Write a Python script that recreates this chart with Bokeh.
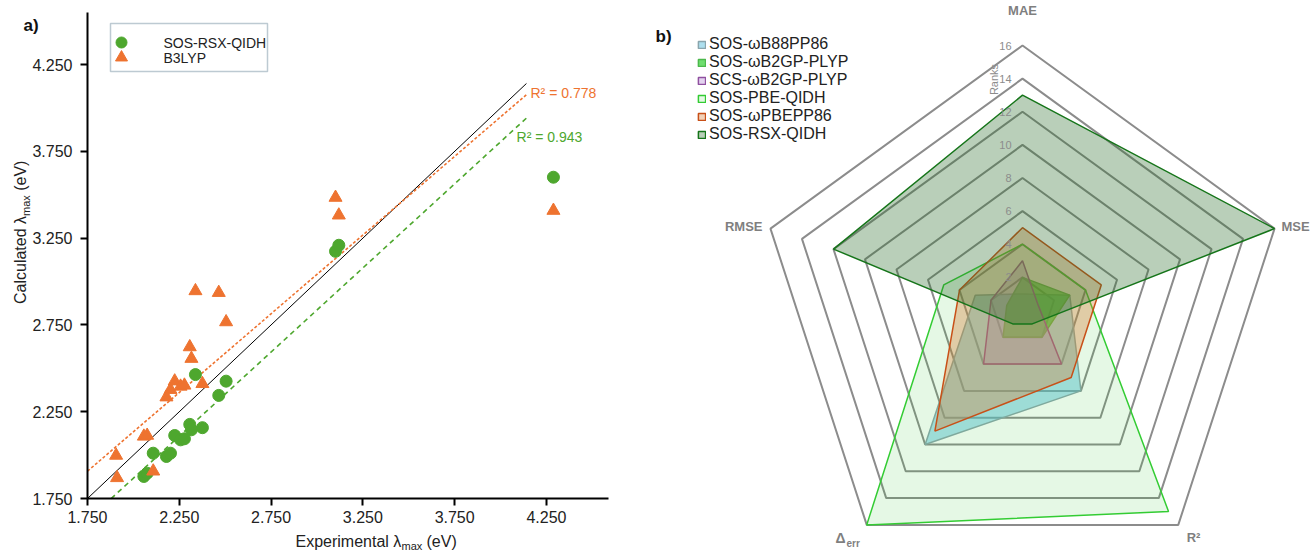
import numpy as np
from bokeh.plotting import figure
from bokeh.models import (Range1d, FixedTicker, PrintfTickFormatter, Legend,
                          LegendItem, Label, BoxAnnotation)
from bokeh.layouts import row
from bokeh.embed import file_html
from bokeh.resources import INLINE
from bokeh.core.properties import value

FONT = "Liberation Sans"

# ---------------- panel a) data ----------------
rsx_exp = [2.338, 2.505, 2.465, 2.307, 2.316, 2.376, 2.225, 2.257, 2.278,
           2.108, 2.180, 2.202, 2.057, 2.075, 3.101, 3.119, 4.288]
rsx_calc = [2.464, 2.426, 2.344, 2.177, 2.146, 2.158, 2.113, 2.088, 2.094,
            2.011, 1.992, 2.011, 1.877, 1.896, 3.174, 3.209, 3.601]
b3lyp_exp = [3.101, 3.119, 2.338, 2.465, 2.505, 2.307, 2.316, 2.225, 2.257,
             2.278, 2.202, 2.180, 2.376, 2.057, 2.075, 1.906, 1.911, 2.108, 4.288]
b3lyp_calc = [3.484, 3.382, 2.946, 2.936, 2.767, 2.623, 2.556, 2.426, 2.396,
              2.402, 2.377, 2.334, 2.411, 2.108, 2.113, 1.998, 1.869, 1.907, 3.409]
tick_values = [1.75, 2.25, 2.75, 3.25, 3.75, 4.25]
axis_min, x_axis_max, y_axis_max = 1.75, 4.588, 4.55
identity_x = [1.75, 4.141]
b3lyp_fit_x = [1.75, 4.146]
b3lyp_slope, b3lyp_intercept = 0.907, 0.320
rsx_fit_x = [1.879, 4.141]
rsx_slope, rsx_intercept = 0.969, -0.071
b3lyp_r2_text = "R² = 0.778"
rsx_r2_text = "R² = 0.943"
legend_a = ["SOS-RSX-QIDH", "B3LYP"]

GREEN = "#4ea72e"
ORANGE = "#ee7330"

# ---------------- panel b) data ----------------
radar_axes = ["MAE", "MSE", "R²", "Δerr", "RMSE"]
ring_levels = [2, 4, 6, 8, 10, 12, 14, 16]
series_names = ["SOS-ωB88PP86", "SOS-ωB2GP-PLYP", "SCS-ωB2GP-PLYP",
                "SOS-PBE-QIDH", "SOS-ωPBEPP86", "SOS-RSX-QIDH"]
rank_b88pp86 = [1, 3, 6, 10, 3]
rank_b2gpplyp = [2, 3, 2, 2, 1]
rank_scs_b2gpplyp = [3, 1, 4, 4, 2]
rank_pbe_qidh = [4, 4, 15, 16, 5]
rank_pbepp86 = [5, 5, 5, 9, 4]
rank_rsx_qidh = [13, 16, 1, 1, 12]

# ================= panel a) =================
W1, H = 640, 552
FL, FR, FT, FB = 87, 608, 12, 498          # axis box in page pixels
KX = (x_axis_max - axis_min) / (FR - FL)   # data units per pixel
KY = (y_axis_max - axis_min) / (FB - FT)
xs, xe = axis_min - FL * KX, axis_min + (W1 - FL) * KX
ys, ye = axis_min - (H - FB) * KY, axis_min + FB * KY

p1 = figure(width=W1, height=H, title=None,
            x_range=Range1d(xs, xe), y_range=Range1d(ys, ye),
            output_backend="svg", toolbar_location=None, min_border=0,
            frame_align=False)
p1.grid.visible = False
p1.outline_line_color = None
for ax, hi in ((p1.xaxis[0], x_axis_max), (p1.yaxis[0], y_axis_max)):
    ax.fixed_location = axis_min
    ax.bounds = (axis_min, hi)
    ax.ticker = FixedTicker(ticks=tick_values)
    ax.formatter = PrintfTickFormatter(format="%.3f")
    ax.axis_line_width = 2
    ax.axis_line_color = "black"
    ax.major_tick_line_width = 2
    ax.major_tick_line_color = "black"
    ax.major_tick_in = 0
    ax.major_tick_out = 7
    ax.minor_tick_line_color = None
    ax.major_label_text_font_size = "16px"
    ax.major_label_text_font = FONT
    ax.major_label_text_color = "#222222"
p1.yaxis[0].major_label_standoff = 8
p1.xaxis[0].major_label_standoff = 5


def dx(px):
    return xs + px * KX


def dy(py):
    return ye - py * KY


p1.line(identity_x, identity_x, line_color="black", line_width=1)
bx = np.array(b3lyp_fit_x)
p1.line(bx, b3lyp_slope * bx + b3lyp_intercept, line_color=ORANGE,
        line_width=1.6, line_dash="3 2")
rx = np.array(rsx_fit_x)
p1.line(rx, rsx_slope * rx + rsx_intercept, line_color=GREEN,
        line_width=1.6, line_dash="5 4")

p1.scatter(rsx_exp, rsx_calc, marker="circle", size=12,
           fill_color=GREEN, line_color=GREEN)
p1.scatter(b3lyp_exp, b3lyp_calc, marker="triangle", size=13,
           fill_color=ORANGE, line_color=ORANGE)

# legend box of panel a)
p1.add_layout(BoxAnnotation(left=dx(110), right=dx(267), top=dy(23),
                            bottom=dy(71), fill_color="white", fill_alpha=1,
                            line_color="#24506b", line_width=1.5,
                            level="underlay"))
p1.scatter([dx(121)], [dy(42)], marker="circle", size=11,
           fill_color=GREEN, line_color=GREEN)
p1.scatter([dx(121)], [dy(57)], marker="triangle", size=12,
           fill_color=ORANGE, line_color=ORANGE)


def dlab(p, x, y, text, size, color="#222222", angle=0.0, bold=False,
         align="left"):
    p.add_layout(Label(x=x, y=y, text=text, text_font=FONT,
                       text_font_size=size, text_color=color, angle=angle,
                       text_font_style="bold" if bold else "normal",
                       text_align=align, text_baseline="middle"))


dlab(p1, dx(163), dy(42), legend_a[0], "14px")
dlab(p1, dx(163), dy(57), legend_a[1], "14px")

dlab(p1, 4.163, 4.089, b3lyp_r2_text, "14px", color=ORANGE)
dlab(p1, 4.087, 3.835, rsx_r2_text, "14px", color=GREEN)

# x axis title  "Experimental λmax (eV)"
dlab(p1, dx(295), dy(541), "Experimental λ", "16px")
dlab(p1, dx(401), dy(545), "max", "11px")
dlab(p1, dx(426), dy(541), "(eV)", "16px")
# y axis title  "Calculated λmax (eV)"
dlab(p1, dx(20), dy(303.5), "Calculated λ", "16px", angle=np.pi / 2)
dlab(p1, dx(25), dy(215.5), "max", "11px", angle=np.pi / 2)
dlab(p1, dx(20), dy(190.3), "(eV)", "16px", angle=np.pi / 2)
# panel letter
dlab(p1, dx(23), dy(25), "a)", "17px", color="#111111", bold=True)

# ================= panel b) =================
PX = 265.0 / 16.0  # pixels per rank unit
W2 = 1312 - W1
CX, CY = 1022 - W1, 310   # radar centre inside the right figure
p2 = figure(width=W2, height=H, title=None,
            x_range=Range1d(-CX / PX, (W2 - CX) / PX),
            y_range=Range1d((CY - H) / PX, CY / PX),
            output_backend="svg", toolbar_location=None, min_border=0,
            x_axis_type=None, y_axis_type=None, frame_align=False)
p2.grid.visible = False
p2.outline_line_color = None

theta = np.deg2rad([90, 18, -54, -126, 162])

ring_xs = [list(r * np.cos(theta)) for r in ring_levels]
ring_ys = [list(r * np.sin(theta)) for r in ring_levels]
p2.patches(ring_xs, ring_ys, fill_color=None, line_color="#8c8c8c",
           line_width=2)

styles = [
    dict(fill_color="#5bc0de", fill_alpha=0.5, line_color="#8aa5ad"),
    dict(fill_color="#22cc22", fill_alpha=0.65, line_color="#4cb84c"),
    dict(fill_color="#b080d0", fill_alpha=0.35, line_color="#9050a0"),
    dict(fill_color="#33cc33", fill_alpha=0.13, line_color="#33cc33"),
    dict(fill_color="#d87a30", fill_alpha=0.35, line_color="#c85018"),
    dict(fill_color="#2a6e2a", fill_alpha=0.33, line_color="#16751a"),
]
all_ranks = [rank_b88pp86, rank_b2gpplyp, rank_scs_b2gpplyp,
             rank_pbe_qidh, rank_pbepp86, rank_rsx_qidh]
items = []
for name, ranks, st in zip(series_names, all_ranks, styles):
    r = np.array(ranks, dtype=float)
    rend = p2.patch(r * np.cos(theta), r * np.sin(theta), line_width=1.5, **st)
    items.append(LegendItem(label=name, renderers=[rend]))

leg2 = Legend(items=items, location=(57, H - 143), glyph_width=9,
              glyph_height=9, label_height=18, spacing=0, padding=0, margin=0,
              label_standoff=3, label_text_font_size="16px",
              label_text_font=FONT, label_text_color="#222222",
              border_line_color=None, background_fill_alpha=0)
p2.add_layout(leg2)

# ring labels
p2.text(x=[0] * len(ring_levels), y=ring_levels,
        text=[str(v) for v in ring_levels], x_offset=-11,
        text_font=value(FONT), text_font_size="11px", text_color="#8c8c8c",
        text_align="right", text_baseline="middle")


def rx_(px):
    return (px - 1022) / PX


def ry_(py):
    return (310 - py) / PX


dlab(p2, rx_(993), ry_(79), "Ranks", "11px", color="#8c8c8c",
     angle=np.pi / 2, align="center")

GRAY = "#7f7f7f"
dlab(p2, 0, ry_(10), radar_axes[0], "13px", color=GRAY, bold=True, align="center")
dlab(p2, rx_(1281), ry_(226), radar_axes[1], "13px", color=GRAY, bold=True)
dlab(p2, rx_(1193), ry_(537), radar_axes[2], "13px", color=GRAY, bold=True,
     align="center")
dlab(p2, rx_(835), ry_(537), "Δ", "14px", color=GRAY, bold=True)
dlab(p2, rx_(846), ry_(543), "err", "10px", color=GRAY, bold=True)
dlab(p2, rx_(762), ry_(226), radar_axes[4], "13px", color=GRAY, bold=True,
     align="right")
dlab(p2, rx_(655), ry_(36), "b)", "17px", color="#111111", bold=True)

layout = row(p1, p2)
open("out.html", "w").write(file_html(layout, INLINE))
